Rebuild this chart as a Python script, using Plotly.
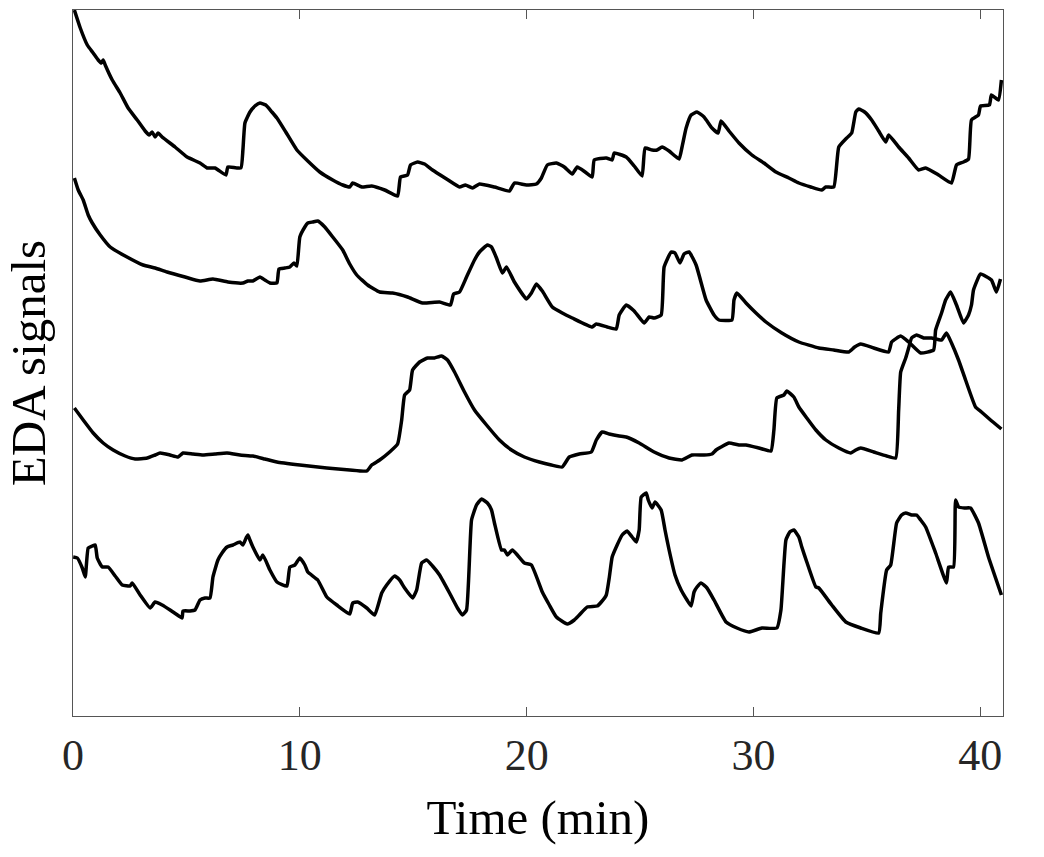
import plotly.graph_objects as go

# Time axis (minutes) and stacked EDA signals (arbitrary display units)
t1 = [0.06,0.32,0.63,0.89,1.11,1.25,1.33,1.42,1.73,2.08,
      2.43,2.83,3.18,3.36,3.49,3.62,3.75,3.93,4.50,5.03,
      5.60,5.91,6.26,6.74,6.83,7.40,7.49,7.58,7.80,8.02,
      8.24,8.50,8.77,8.99,9.38,9.87,10.35,10.88,11.45,11.89,
      12.20,12.33,12.73,13.17,13.74,14.31,14.44,14.75,14.88,15.19,
      15.50,15.85,16.47,17.04,17.30,17.61,17.92,18.58,19.24,19.46,
      19.99,20.43,20.65,20.91,21.31,21.66,22.01,22.23,22.58,22.89,
      22.98,23.51,23.77,23.86,24.39,24.74,25.09,25.22,25.53,25.75,
      25.97,26.28,26.72,26.85,27.03,27.25,27.51,27.82,28.17,28.44,
      28.57,28.92,29.36,29.93,30.46,30.99,31.56,32.00,32.53,33.01,
      33.19,33.54,33.76,34.11,34.33,34.51,34.64,34.90,35.21,35.52,
      35.83,35.96,36.40,36.84,37.28,37.59,38.16,38.73,38.95,39.26,
      39.48,39.61,39.92,40.01,40.40,40.49,40.80,40.93]
eda1 = [706,688,671,663,656,653,656,651,636,623,
        608,596,585,581,584,579,583,579,569,559,
        553,548,548,541,549,548,566,593,604,610,
        613,611,604,598,584,566,555,544,536,531,
        529,533,529,530,526,520,539,541,551,554,
        552,546,537,529,531,528,532,529,525,533,
        531,532,538,551,553,549,542,549,544,539,
        556,558,556,563,559,550,540,568,566,566,
        569,565,557,569,588,601,604,599,588,583,
        595,585,573,561,553,544,538,533,529,526,
        529,529,569,578,583,604,607,604,596,585,
        574,581,569,558,546,548,541,533,551,554,
        557,596,601,610,611,621,616,636]

t2 = [0.06,0.23,0.45,0.67,0.85,1.20,1.64,2.30,3.09,3.62,
      4.15,4.94,5.60,6.17,6.83,7.49,7.71,7.93,8.24,8.46,
      8.68,8.99,9.08,9.34,9.56,9.74,9.87,10.00,10.22,10.35,
      10.57,10.79,11.10,11.45,11.89,12.20,12.51,12.99,13.52,14.09,
      14.75,15.41,16.16,16.64,16.78,17.04,17.35,17.70,17.92,18.27,
      18.45,18.67,18.93,19.11,19.46,19.99,20.21,20.43,20.69,21.13,
      21.57,22.01,22.89,23.07,23.55,23.95,24.08,24.39,24.74,25.18,
      25.40,25.62,25.93,26.06,26.37,26.54,26.76,26.94,27.16,27.47,
      27.91,28.26,28.48,29.05,29.14,29.27,29.67,30.11,30.55,31.25,
      32.00,32.88,33.54,34.20,34.46,34.73,35.30,35.96,36.09,36.49,
      36.84,37.37,37.94,38.03,38.29,38.47,38.69,38.95,39.26,39.48,
      39.61,39.70,40.01,40.49,40.71,40.89]
eda2 = [538,526,516,501,493,481,469,460,451,448,
        444,439,435,437,434,433,435,435,439,436,
        433,433,447,448,449,453,450,479,489,493,
        494,495,489,479,466,452,441,431,424,423,
        419,413,414,411,422,424,439,456,464,471,
        469,458,443,449,434,417,423,432,425,409,
        403,398,389,392,389,387,401,411,405,393,
        399,398,401,449,464,463,453,462,464,451,
        416,401,396,396,416,423,413,403,394,383,
        374,368,366,364,369,372,368,364,374,380,
        374,363,366,386,403,416,424,411,393,401,
        411,426,442,436,424,437]

t3 = [0.06,0.45,0.89,1.33,1.77,2.30,2.74,3.27,3.62,3.84,
      4.28,4.63,4.85,5.29,5.73,6.26,6.79,7.36,7.93,8.46,
      8.99,10.00,11.19,12.20,12.95,13.17,13.52,13.96,14.31,14.49,
      14.62,14.84,14.97,15.28,15.63,15.94,16.25,16.51,16.82,17.26,
      17.70,18.23,18.80,19.33,19.90,20.56,21.09,21.57,21.88,22.32,
      22.85,23.07,23.33,23.64,24.08,24.39,24.96,25.62,26.28,26.85,
      27.29,27.82,28.17,28.35,28.57,28.92,29.36,29.67,30.24,30.77,
      30.90,31.03,31.34,31.47,31.78,32.00,32.35,32.75,33.19,33.76,
      34.29,34.51,34.73,35.30,35.87,36.27,36.40,36.49,36.71,36.84,
      36.97,37.19,37.50,37.85,38.29,38.51,38.73,39.04,39.35,39.79,
      40.05,40.45,40.93]
eda3 = [308,296,283,273,266,260,257,258,261,263,
        261,259,263,262,261,262,263,261,260,257,
        254,251,248,246,245,251,256,264,272,296,
        321,326,346,354,358,358,360,356,344,324,
        306,291,276,266,259,254,251,249,259,262,
        264,276,284,282,280,279,273,264,258,256,
        261,261,262,266,269,273,271,271,268,265,
        286,318,321,325,319,309,298,286,276,268,
        263,266,268,264,260,258,306,344,358,368,
        378,381,378,378,376,383,373,356,336,309,
        304,296,287]

t4 = [0.01,0.19,0.41,0.54,0.67,0.85,0.98,1.07,1.29,1.55,
      1.86,2.17,2.52,2.61,2.96,3.40,3.62,3.93,4.28,4.54,
      4.81,4.85,5.16,5.38,5.60,5.82,6.04,6.17,6.39,6.57,
      6.79,7.05,7.36,7.49,7.63,7.71,7.80,7.93,8.24,8.37,
      8.68,8.99,9.43,9.56,9.78,10.00,10.22,10.35,10.79,11.19,
      11.63,12.20,12.33,12.55,12.95,13.30,13.61,13.83,14.18,14.40,
      14.62,14.97,15.15,15.37,15.59,15.85,16.16,16.60,16.95,17.17,
      17.35,17.57,17.79,18.01,18.27,18.45,18.58,18.89,19.02,19.15,
      19.37,19.59,19.90,20.21,20.69,21.00,21.31,21.79,22.10,22.32,
      22.67,23.11,23.29,23.51,23.64,23.77,23.99,24.21,24.43,24.65,
      24.83,24.96,25.05,25.27,25.36,25.53,25.66,25.93,26.10,26.28,
      26.54,26.81,27.07,27.25,27.38,27.51,27.69,27.95,28.26,28.79,
      29.27,29.80,30.37,31.03,31.21,31.43,31.60,31.78,32.00,32.13,
      32.35,32.75,32.88,33.45,34.07,34.73,35.52,35.61,35.87,36.05,
      36.31,36.53,36.71,36.97,37.19,37.37,37.59,38.03,38.51,38.60,
      38.82,38.91,39.04,39.30,39.57,39.92,40.36,40.93]
eda4 = [159,158,148,139,168,170,171,158,149,149,
        140,131,130,133,121,108,114,111,106,102,
        98,105,105,106,116,118,118,139,156,163,
        169,171,174,171,178,181,176,169,156,161,
        146,134,130,149,151,158,151,144,136,119,
        111,102,113,114,108,101,123,131,140,136,
        128,118,126,153,156,150,141,123,108,101,
        106,196,211,217,213,206,193,166,166,161,
        166,161,153,151,124,111,99,92,96,101,
        109,110,114,121,138,159,171,181,185,179,
        174,186,219,223,216,208,214,206,186,166,
        141,126,116,110,124,129,133,128,116,94,
        88,84,88,88,106,176,184,186,179,169,
        154,129,128,111,94,88,83,103,146,151,
        193,201,203,201,201,196,189,163,133,149,
        149,216,209,208,208,193,159,121]

x_ticks = [0, 10, 20, 30, 40]
x_tick_labels = ["0", "10", "20", "30", "40"]

series = [(t1, eda1), (t2, eda2), (t3, eda3), (t4, eda4)]

fig = go.Figure()
for tx, ey in series:
    fig.add_trace(go.Scatter(x=tx, y=ey, mode="lines",
                             line=dict(color="black", width=3.5,
                                       shape="spline", smoothing=0.4),
                             showlegend=False, hoverinfo="skip"))

font_family = "Liberation Serif"
axis_col = "#555555"

fig.update_layout(
    width=1044, height=857,
    margin=dict(l=73, r=41, t=10, b=141),
    paper_bgcolor="white", plot_bgcolor="white",
    font=dict(family=font_family, color="#262626"),
)
fig.update_xaxes(
    range=[0, 41], tickvals=x_ticks, ticktext=x_tick_labels,
    showline=True, linecolor=axis_col, linewidth=1, mirror="ticks",
    ticks="inside", ticklen=9, tickcolor=axis_col, tickwidth=1,
    showgrid=False, zeroline=False,
    tickfont=dict(size=44, family=font_family, color="#262626"),
    title=dict(text="Time (min)", font=dict(size=49, family=font_family, color="#000000"), standoff=20),
)
fig.update_yaxes(
    range=[0, 706], showticklabels=False, ticks="",
    showline=True, linecolor=axis_col, linewidth=1, mirror=True,
    showgrid=False, zeroline=False,
    title=dict(text="EDA signals", font=dict(size=49, family=font_family, color="#000000"), standoff=10),
)

fig.write_html("out.html")
